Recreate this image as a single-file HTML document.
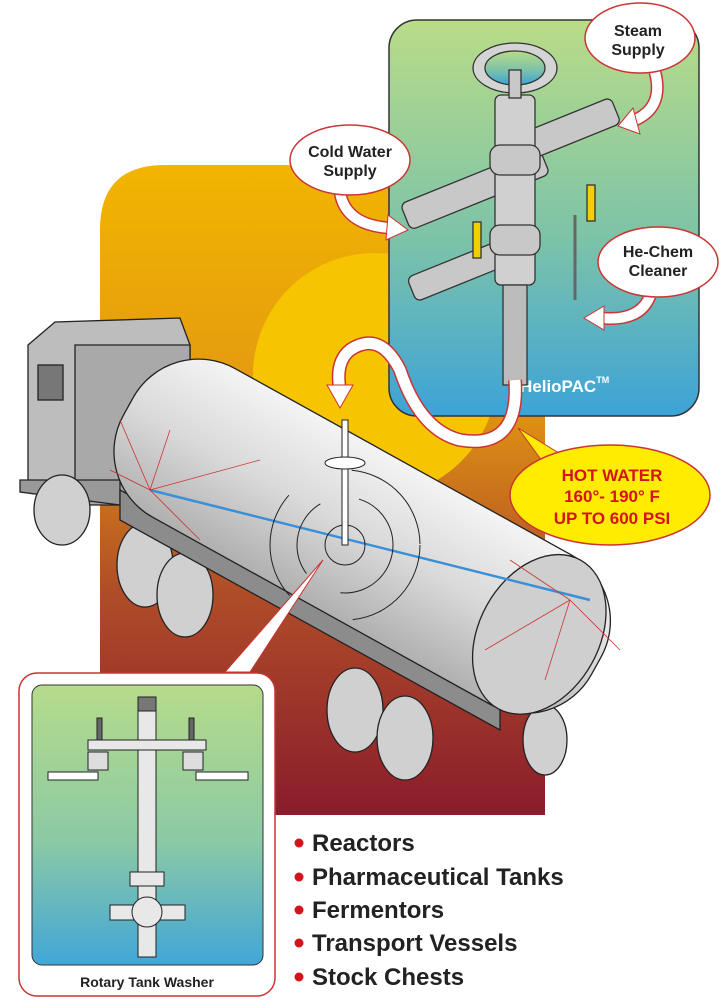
<!DOCTYPE html>
<html><head><meta charset="utf-8"><style>
html,body{margin:0;padding:0;background:#fff}
svg{display:block}
text{font-family:"Liberation Sans",sans-serif;font-weight:bold}
</style></head><body>
<svg width="722" height="1008" viewBox="0 0 722 1008" xmlns="http://www.w3.org/2000/svg">
<defs>
<linearGradient id="og" x1="0" y1="0" x2="0" y2="1">
<stop offset="0" stop-color="#f2b500"/><stop offset="0.35" stop-color="#e49a10"/><stop offset="0.65" stop-color="#b04e28"/><stop offset="1" stop-color="#8a1c2c"/></linearGradient>
<linearGradient id="gb" x1="0" y1="0" x2="0" y2="1">
<stop offset="0" stop-color="#b9dc88"/><stop offset="0.55" stop-color="#7dc3a8"/><stop offset="1" stop-color="#3ca3d8"/></linearGradient>
<linearGradient id="gb2" x1="0" y1="0" x2="0" y2="1">
<stop offset="0" stop-color="#b6db8a"/><stop offset="0.55" stop-color="#8ccaa4"/><stop offset="1" stop-color="#42a6d8"/></linearGradient>
<linearGradient id="tank" x1="0" y1="0" x2="0" y2="1">
<stop offset="0" stop-color="#f4f4f4"/><stop offset="0.5" stop-color="#d9d9d9"/><stop offset="1" stop-color="#b0b0b0"/></linearGradient>
</defs>
<path d="M100 230 Q100 165 165 165 L545 165 L545 815 L100 815 Z" fill="url(#og)"/>
<circle cx="375" cy="375" r="122" fill="#f6c400"/>
<rect x="389" y="20" width="310" height="396" rx="28" fill="url(#gb)" stroke="#333" stroke-width="1.5"/>
<text x="520" y="392" fill="#fff" font-size="17">HelioPAC<tspan font-size="9" dy="-9">TM</tspan></text>
<!-- valve assembly -->
<g stroke="#333" stroke-width="1.3" fill="#c8c8c8">
<rect x="400" y="175" width="150" height="28" rx="6" transform="rotate(-22 475 189)"/>
<rect x="505" y="118" width="115" height="28" rx="6" transform="rotate(-22 562 132)"/>
<rect x="408" y="258" width="100" height="26" rx="6" transform="rotate(-22 458 271)"/>
<rect x="495" y="95" width="40" height="190" rx="6" fill="#d0d0d0"/>
<rect x="490" y="145" width="50" height="30" rx="10"/>
<rect x="490" y="225" width="50" height="30" rx="10"/>
<ellipse cx="515" cy="68" rx="42" ry="25" fill="#d4d4d4"/>
<ellipse cx="515" cy="68" rx="30" ry="17" fill="url(#gb)"/>
<rect x="509" y="70" width="12" height="28"/>
<rect x="503" y="285" width="24" height="100" fill="#bcbcbc"/>
<rect x="473" y="222" width="8" height="36" fill="#f2d000"/>
<rect x="587" y="185" width="8" height="36" fill="#f2d000"/>
<line x1="575" y1="215" x2="575" y2="300" stroke="#666" stroke-width="3"/>
</g>
<!-- bubble arrows -->
<g fill="none">
<path d="M655 72 Q665 110 630 122" stroke="#c33" stroke-width="13"/>
<path d="M655 72 Q665 110 630 122" stroke="#fff" stroke-width="10"/>
<path d="M340 192 Q345 225 390 228" stroke="#c33" stroke-width="13"/>
<path d="M340 192 Q345 225 390 228" stroke="#fff" stroke-width="10"/>
<path d="M650 296 Q640 322 600 318" stroke="#c33" stroke-width="13"/>
<path d="M650 296 Q640 322 600 318" stroke="#fff" stroke-width="10"/>
</g>
<g fill="#fff" stroke="#c33">
<path d="M633 108 L618 126 L640 134 Z"/>
<path d="M388 215 L408 230 L386 240 Z"/>
<path d="M604 306 L584 318 L604 330 Z"/>
</g>
<!-- hose -->
<path d="M515 380 Q520 450 460 440 Q420 430 400 370 Q380 330 350 350 Q335 362 340 390" fill="none" stroke="#c33" stroke-width="14"/>
<path d="M515 380 Q520 450 460 440 Q420 430 400 370 Q380 330 350 350 Q335 362 340 390" fill="none" stroke="#fff" stroke-width="11"/>
<path d="M327 385 L353 385 L340 408 Z" fill="#fff" stroke="#c33"/>
<!-- truck -->
<g stroke="#222" stroke-width="1.3">
<path d="M28 345 L55 322 L180 318 L190 345 L190 485 L28 485 Z" fill="#bdbdbd"/>
<path d="M75 345 L190 345 L190 505 L75 505 Z" fill="#a9a9a9"/>
<rect x="38" y="365" width="25" height="35" fill="#777"/>
<path d="M20 480 L120 480 L120 505 L20 492 Z" fill="#999"/>
<ellipse cx="62" cy="510" rx="28" ry="35" fill="#d0d0d0"/>
<ellipse cx="145" cy="565" rx="28" ry="42" fill="#d0d0d0"/>
<ellipse cx="185" cy="595" rx="28" ry="42" fill="#d0d0d0"/>
<ellipse cx="355" cy="710" rx="28" ry="42" fill="#d0d0d0"/>
<ellipse cx="405" cy="738" rx="28" ry="42" fill="#d0d0d0"/>
<ellipse cx="545" cy="740" rx="22" ry="35" fill="#d0d0d0"/>
<path d="M120 490 L500 700 L500 730 L120 520 Z" fill="#8c8c8c"/>
<g transform="rotate(29 360 535)">
<rect x="95" y="450" width="535" height="170" rx="75" fill="url(#tank)"/>
<ellipse cx="565" cy="535" rx="60" ry="85" fill="#cfcfcf"/>
</g>
</g>
<line x1="150" y1="490" x2="590" y2="600" stroke="#3a8fd8" stroke-width="2.5"/>
<g stroke="#c33" stroke-width="0.8" fill="none">
<path d="M150 490 L120 420 M150 490 L170 430 M150 490 L110 470 M150 490 L260 460 M150 490 L200 540"/>
<path d="M570 600 L485 650 M570 600 L545 680 M570 600 L620 650 M570 600 L510 560"/>
</g>
<g stroke="#222" fill="none">
<circle cx="345" cy="545" r="20"/><circle cx="345" cy="545" r="48" stroke-dasharray="80 40"/><circle cx="345" cy="545" r="75" stroke-dasharray="110 70"/>
</g>
<rect x="342" y="420" width="6" height="125" fill="#fff" stroke="#222"/>
<ellipse cx="345" cy="463" rx="20" ry="6" fill="#fff" stroke="#222"/>
<path d="M323 560 L225 672 L250 672 Z" fill="#fff" stroke="#c33"/>
<!-- bubbles -->
<g fill="#fff" stroke="#c33" stroke-width="1.5">
<ellipse cx="640" cy="38" rx="55" ry="35"/>
<ellipse cx="350" cy="160" rx="60" ry="35"/>
<ellipse cx="658" cy="262" rx="60" ry="35"/>
</g>
<path d="M518 428 L545 465 L562 455 Z" fill="#ffec00" stroke="#c33"/>
<ellipse cx="610" cy="495" rx="100" ry="50" fill="#ffec00" stroke="#c33" stroke-width="1.5"/>
<g font-size="16" fill="#222" text-anchor="middle">
<text x="638" y="36">Steam</text><text x="638" y="55">Supply</text>
<text x="350" y="157">Cold Water</text><text x="350" y="176">Supply</text>
<text x="658" y="257">He-Chem</text><text x="658" y="276">Cleaner</text>
</g>
<g font-size="17" fill="#d4141c" text-anchor="middle">
<text x="612" y="481">HOT WATER</text><text x="612" y="502">160°- 190° F</text><text x="612" y="524">UP TO 600 PSI</text>
</g>
<!-- inset -->
<rect x="19" y="673" width="256" height="323" rx="18" fill="#fff" stroke="#c33" stroke-width="1.5"/>
<rect x="32" y="685" width="231" height="280" rx="10" fill="url(#gb2)" stroke="#333"/>
<g stroke="#222" fill="#e8e8e8">
<rect x="138" y="697" width="18" height="260"/>
<rect x="138" y="697" width="18" height="14" fill="#777"/>
<rect x="88" y="740" width="118" height="10"/>
<rect x="48" y="772" width="50" height="8" fill="#fff"/>
<rect x="196" y="772" width="52" height="8" fill="#fff"/>
<rect x="97" y="718" width="5" height="22" fill="#666"/>
<rect x="189" y="718" width="5" height="22" fill="#666"/>
<rect x="88" y="752" width="20" height="18" fill="#ddd"/>
<rect x="183" y="752" width="20" height="18" fill="#ddd"/>
<rect x="130" y="872" width="34" height="14"/>
<path d="M110 905 L185 905 L185 920 L110 920 Z"/>
<circle cx="147" cy="912" r="15"/>
</g>
<text x="147" y="987" font-size="14" fill="#222" text-anchor="middle">Rotary Tank Washer</text>
<g font-size="24" fill="#222">
<text x="312" y="851">Reactors</text>
<text x="312" y="885">Pharmaceutical Tanks</text>
<text x="312" y="918">Fermentors</text>
<text x="312" y="951">Transport Vessels</text>
<text x="312" y="985">Stock Chests</text>
</g>
<g fill="#d4141c">
<circle cx="299" cy="843" r="4.5"/><circle cx="299" cy="877" r="4.5"/><circle cx="299" cy="910" r="4.5"/><circle cx="299" cy="943" r="4.5"/><circle cx="299" cy="977" r="4.5"/>
</g>
</svg>
</body></html>
